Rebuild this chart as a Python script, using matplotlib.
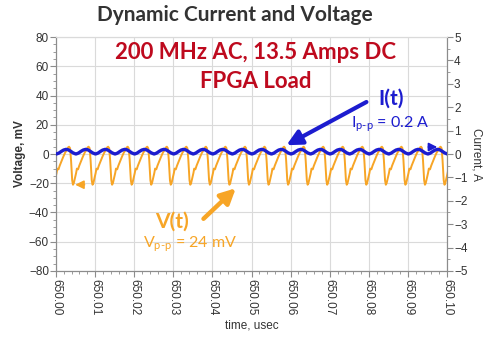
import numpy as np
import matplotlib
matplotlib.use("Agg")
import matplotlib.pyplot as plt
from matplotlib.ticker import MultipleLocator, FormatStrFormatter

plt.rcParams['font.family'] = ['Liberation Sans', 'DejaVu Sans']
plt.rcParams['mathtext.fontset'] = 'custom'
plt.rcParams['mathtext.rm'] = 'Lato'
plt.rcParams['mathtext.it'] = 'Lato:italic'

# Data (one 5 ns cycle repeats across the window)
period_ns = 5.0
first_peak_us = 650.00334
n_cycles = 21

# voltage ripple over one cycle, phase in ns from the peak
v_phase_ns = [-0.5, -0.25, 0.0, 0.25, 0.5, 0.8, 1.0, 1.2, 1.8, 2.0, 2.3, 2.6, 3.5, 4.0]
v_cycle_mv = [3.0, 4.5, 5.0, 4.0, -4.0, -18.0, -21.0, -20.0, -13.0, -10.0, -10.5, -8.0, -2.0, 1.0]

# current ripple over one cycle, same phase reference
i_phase_ns = [-0.75, -0.2, 0.4, 1.0, 1.75, 2.4, 3.0, 3.6]
i_cycle_a = [0.20, 0.18, 0.12, 0.05, 0.00, 0.04, 0.11, 0.17]

x_ticks = [650.00, 650.01, 650.02, 650.03, 650.04, 650.05, 650.06, 650.07, 650.08, 650.09, 650.10]

starts = first_peak_us + (np.arange(n_cycles) - 1) * period_ns / 1000.0
t_v = (starts[:, None] + np.array(v_phase_ns)[None, :] / 1000.0).ravel()
v = np.tile(v_cycle_mv, n_cycles)
t_i = (starts[:, None] + np.array(i_phase_ns)[None, :] / 1000.0).ravel()
cur = np.tile(i_cycle_a, n_cycles)

orange = '#F7A526'
blue = '#1C1CCF'
red = '#BE0A1E'

fig = plt.figure(figsize=(4.87, 3.40), dpi=100)
ax = fig.add_axes([0.115, 0.203, 0.803, 0.688])
ax2 = ax.twinx()

ax.plot(t_v, v, color=orange, lw=1.4, zorder=3)
ax2.plot(t_i, cur, color=blue, lw=2.4, zorder=4)

ax.set_xlim(650.00, 650.10)
ax.set_ylim(-80, 80)
ax2.set_ylim(-5, 5)

ax.set_xticks(x_ticks)
ax.xaxis.set_major_formatter(FormatStrFormatter('%.2f'))
ax.xaxis.set_minor_locator(MultipleLocator(0.002))
ax.yaxis.set_major_locator(MultipleLocator(20))
ax.yaxis.set_minor_locator(MultipleLocator(5))
ax2.yaxis.set_major_locator(MultipleLocator(1))
ax2.yaxis.set_minor_locator(MultipleLocator(0.5))

ax.grid(True, which='major', color='#DADADA', lw=0.8)
ax.set_axisbelow(True)
for a in (ax, ax2):
    for s in a.spines.values():
        s.set_color('#8C8C8C')
        s.set_linewidth(0.8)
ax.spines['top'].set_color('#DADADA')
ax2.spines['top'].set_color('#DADADA')

ax.tick_params(axis='x', which='major', labelsize=8.5, labelcolor='#333333', colors='#8C8C8C',
               labelrotation=270, length=4, pad=2)
ax.tick_params(axis='y', which='major', labelsize=8.5, labelcolor='#333333', colors='#8C8C8C', length=4, pad=1)
ax.tick_params(which='minor', colors='#8C8C8C', length=2)
ax2.tick_params(axis='y', which='major', labelsize=8.5, labelcolor='#333333', colors='#8C8C8C', length=4, pad=1)
ax2.tick_params(axis='y', which='minor', colors='#8C8C8C', length=2)
for lbl in ax.get_xticklabels():
    lbl.set_color('#333333')

ax.set_xlabel('time, usec', fontsize=8.5, color='#333333', labelpad=3)
ax.set_ylabel('Voltage, mV', fontsize=8.5, fontweight='bold', color='#333333', labelpad=2)
ax2.set_ylabel('Current, A', fontsize=8.5, color='#333333', rotation=270, labelpad=11)

# titles
fig.text(0.483, 0.957, 'Dynamic Current and Voltage', ha='center', va='center',
         fontsize=15, fontweight='bold', color='#333333', family='Lato')
fig.text(0.524, 0.845, '200 MHz AC, 13.5 Amps DC', ha='center', va='center',
         fontsize=16, fontweight='bold', color=red, family='Lato')
fig.text(0.526, 0.760, 'FPGA Load', ha='center', va='center',
         fontsize=16, fontweight='bold', color=red, family='Lato')

# current annotation
ax.annotate('', xy=(0.583, 0.532), xytext=(0.800, 0.728), xycoords='axes fraction',
            arrowprops=dict(arrowstyle='-|>,head_length=0.9,head_width=0.45', color=blue, lw=3), zorder=6)
ax.text(0.857, 0.735, 'I(t)', transform=ax.transAxes, ha='center', va='center',
        fontsize=15, fontweight='bold', color=blue, family='Lato', zorder=6)
ax.text(0.855, 0.627, r'I$_{\mathrm{p\text{-}p}}$ = 0.2 A', transform=ax.transAxes, ha='center', va='center',
        fontsize=11.5, color=blue, family='Lato', zorder=6)

# voltage annotation
ax.annotate('', xy=(0.465, 0.362), xytext=(0.372, 0.215), xycoords='axes fraction',
            arrowprops=dict(arrowstyle='-|>,head_length=0.9,head_width=0.45', color=orange, lw=3.2), zorder=6)
ax.text(0.297, 0.209, 'V(t)', transform=ax.transAxes, ha='center', va='center',
        fontsize=15, fontweight='bold', color=orange, family='Lato', zorder=6)
ax.text(0.343, 0.115, r'V$_{\mathrm{p\text{-}p}}$ = 24 mV', transform=ax.transAxes, ha='center', va='center',
        fontsize=11.5, color=orange, family='Lato', zorder=6)

# small axis indicators on the traces
ax.annotate('', xy=(650.0042, -21), xytext=(650.0080, -21),
            arrowprops=dict(arrowstyle='-|>,head_length=0.5,head_width=0.25', color=orange, lw=1.2), zorder=5)
ax2.annotate('', xy=(650.0982, 0.30), xytext=(650.0945, 0.30),
             arrowprops=dict(arrowstyle='-|>,head_length=0.5,head_width=0.25', color=blue, lw=1.2), zorder=5)

fig.savefig('out.png', dpi=100)
